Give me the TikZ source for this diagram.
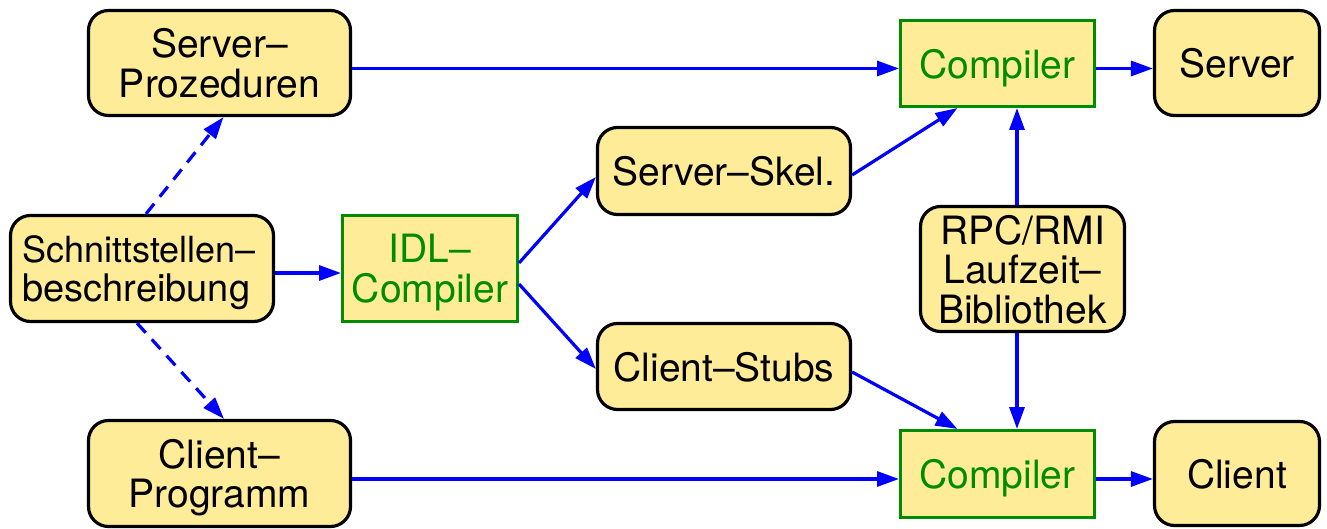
\documentclass[tikz,border=0pt]{standalone}
\usepackage{fontspec}
\setmainfont{TeX Gyre Heros}
\usetikzlibrary{arrows.meta}
\definecolor{boxfill}{RGB}{255,236,153}
\definecolor{idlgreen}{RGB}{0,140,0}
\definecolor{arrblue}{RGB}{0,0,255}
\begin{document}
\begin{tikzpicture}[x=0.5pt,y=-0.5pt,
  every node/.style={font=\fontsize{19.5pt}{19.75pt}\selectfont, text depth=0pt},
  rbox/.style={draw=black, line width=1.6pt, fill=boxfill, rounded corners=10pt, inner sep=0pt, align=center},
  gbox/.style={draw=idlgreen, line width=1.5pt, fill=boxfill, text=idlgreen, inner sep=0pt, align=center},
  plain/.style={inner sep=0pt, align=left, font=\fontsize{19pt}{19.5pt}\selectfont},
  arr/.style={draw=arrblue, line width=1.6pt, -{Triangle[length=11pt,width=7.5pt]}},
  darr/.style={arr, dash pattern=on 6.5pt off 4.5pt}]
\useasboundingbox (0,0) rectangle (1327,529);

\node[rbox, minimum width=131pt, minimum height=52.5pt] (sp) at (219.5,63) {Server--\\Prozeduren};
\node[rbox, minimum width=131.5pt, minimum height=53pt] (schn) at (142,268.5) {};
\node[plain, anchor=west] (schntext) at (22,269) {{\fontsize{18pt}{19.5pt}\selectfont Schnittstellen--}\\beschreibung};
\node[gbox, minimum width=87.5pt, minimum height=53pt] (idl) at (430,268.5) {IDL--\\Compiler};
\node[rbox, minimum width=131pt, minimum height=53pt] (cp) at (219.5,473.5) {Client--\\Programm};
\node[rbox, minimum width=126.5pt, minimum height=43.5pt] (sskel) at (724,171) {Server--Skel.};
\node[rbox, minimum width=126.5pt, minimum height=43pt] (cstubs) at (724,366.5) {Client--Stubs};
\node[gbox, minimum width=97pt, minimum height=43pt] (compT) at (997.5,63.5) {Compiler};
\node[gbox, minimum width=97pt, minimum height=43.5pt] (compB) at (997.5,474) {Compiler};
\node[rbox, minimum width=82.5pt, minimum height=52.5pt] (server) at (1237,63) {Server};
\node[rbox, minimum width=82.5pt, minimum height=52pt] (client) at (1237,473.5) {Client};
\node[rbox, minimum width=102pt, minimum height=62.5pt] (rpc) at (1022.5,269) {RPC/RMI\\Laufzeit--\\Bibliothek};

% anchor points for the connectors
\coordinate (cTin) at ([yshift=-2.5pt]compT.west);
\coordinate (cTout) at ([yshift=-2.5pt]compT.east);
\coordinate (idlin) at ([yshift=-2.25pt]idl.west);
\coordinate (cBin) at ([yshift=-2.5pt]compB.west);
\coordinate (cBout) at ([yshift=-2.5pt]compB.east);
\coordinate (rpcN) at ([xshift=-2.75pt]rpc.north);
\coordinate (rpcS) at ([xshift=-2.75pt]rpc.south);

% horizontal arrows
\draw[arr] (sp.east |- cTin) -- (cTin);
\draw[arr] (cTout) -- (cTout -| server.west);
\draw[arr] (schn.east |- idlin) -- (idlin);
\draw[arr] (cp.east |- cBin) -- (cBin);
\draw[arr] (cBout) -- (cBout -| client.west);

% IDL fan-out
\draw[arr] ([yshift=2.75pt]idl.east) -- ([yshift=-3pt]sskel.west);
\draw[arr] ([yshift=-7.75pt]idl.east) -- ([yshift=-1.25pt]cstubs.west);

% into the compilers
\draw[arr] ([yshift=-2pt]sskel.east) -- ([xshift=-20pt]compT.south);
\draw[arr] ([yshift=-2.75pt]cstubs.east) -- ([xshift=-20pt]compB.north);
\draw[arr] (rpcN) -- (rpcN |- compT.south);
\draw[arr] (rpcS) -- (rpcS |- compB.north);

% dashed
\draw[darr] ([xshift=2pt]schn.north) -- ([xshift=2pt]sp.south);
\draw[darr] ([xshift=-2.5pt]schn.south) -- ([xshift=2.25pt]cp.north);
\end{tikzpicture}
\end{document}
